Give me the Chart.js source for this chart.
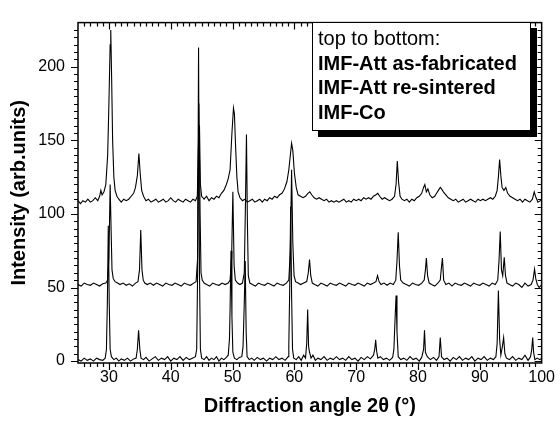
<!DOCTYPE html>
<html lang="en">
<head>
    <meta charset="UTF-8">
    <title>XRD patterns - IMF samples</title>
    <script src="https://cdn.jsdelivr.net/npm/chart.js@4.4.1/dist/chart.umd.min.js"></script>
    <style>
        body { margin: 0; background: #fff; }
        #wrap { position: relative; width: 560px; height: 426px; }
        #legendBox {
            position: absolute;
            left: 312px; top: 22px;
            width: 219px; height: 109px;
            border: 1px solid #000;
            background: #fff;
            box-shadow: 6px 6px 0 #000;
            font-family: "Liberation Sans", Arial, sans-serif;
            font-size: 20px;
            line-height: 24.5px;
            color: #000;
            padding: 3px 0 0 5px;
            box-sizing: border-box;
            white-space: nowrap;
        }
        #legendBox b { font-weight: bold; }
    </style>
</head>
<body>
    <div id="wrap">
        <canvas id="xrdChart" width="560" height="426"></canvas>
        <div id="legendBox">
            top to bottom:<br>
            <b>IMF-Att as-fabricated</b><br>
            <b>IMF-Att re-sintered</b><br>
            <b>IMF-Co</b>
        </div>
    </div>

    <script>
        // Axis tick labels
        const xTickLabels = [30, 40, 50, 60, 70, 80, 90, 100];
        const yTickLabels = [0, 50, 100, 150, 200];

        // IMF-Att as-fabricated (top trace, offset ~109)
        const angleFab = [25, 25.4, 25.8, 26.2, 26.6, 27.0, 27.4, 27.8, 28.2, 28.5, 28.7, 28.9, 29.2, 29.5, 29.8, 30.0, 30.2, 30.3, 30.45, 30.6, 30.8, 31.0, 31.3, 31.6, 32.0, 32.4, 32.8, 33.2, 33.6, 34.0, 34.3, 34.6, 34.85, 35.05, 35.3, 35.6, 36.0, 36.4, 36.8, 37.2, 37.6, 38.0, 38.4, 38.8, 39.2, 39.6, 40.0, 40.4, 40.8, 41.2, 41.6, 42.0, 42.4, 42.8, 43.2, 43.6, 44.0, 44.3, 44.5, 44.65, 44.8, 45.0, 45.4, 45.8, 46.2, 46.6, 47.0, 47.4, 47.8, 48.2, 48.6, 49.0, 49.3, 49.6, 49.9, 50.15, 50.3, 50.5, 50.7, 50.9, 51.2, 51.6, 52.0, 52.4, 52.8, 53.2, 53.6, 54.0, 54.4, 54.8, 55.2, 55.6, 56.0, 56.4, 56.8, 57.2, 57.6, 58.0, 58.4, 58.8, 59.1, 59.35, 59.55, 59.75, 60.0, 60.3, 60.6, 61.0, 61.4, 61.8, 62.2, 62.5, 62.8, 63.2, 63.6, 64.0, 64.4, 64.8, 65.2, 65.6, 66.0, 66.4, 66.8, 67.2, 67.6, 68.0, 68.4, 68.8, 69.2, 69.6, 70.0, 70.4, 70.8, 71.2, 71.6, 72.0, 72.4, 72.8, 73.2, 73.5, 73.8, 74.2, 74.6, 75.0, 75.4, 75.8, 76.2, 76.45, 76.65, 76.85, 77.1, 77.4, 77.8, 78.2, 78.6, 79.0, 79.4, 79.8, 80.2, 80.6, 80.9, 81.1, 81.35, 81.6, 81.9, 82.3, 82.7, 83.0, 83.3, 83.6, 83.8, 84.1, 84.5, 84.9, 85.3, 85.7, 86.1, 86.5, 86.9, 87.3, 87.7, 88.1, 88.5, 88.9, 89.3, 89.7, 90.1, 90.5, 90.9, 91.3, 91.7, 92.1, 92.5, 92.8, 93.0, 93.2, 93.4, 93.6, 93.9, 94.2, 94.5, 94.9, 95.3, 95.7, 96.1, 96.5, 96.9, 97.3, 97.7, 98.1, 98.5, 98.8, 99.0, 99.4, 99.8, 100];
        const intensityFab = [109, 107, 109, 108, 110, 108, 109, 111, 109, 112, 116, 113, 115, 120, 140, 175, 215, 225, 190, 150, 125, 116, 112, 110, 108, 110, 109, 110, 112, 114, 118, 126, 141, 128, 116, 112, 109, 110, 108, 109, 110, 108, 109, 110, 108, 109, 111, 109, 108, 110, 109, 108, 110, 109, 108, 110, 109, 112, 150, 160, 120, 112, 110, 112, 109, 111, 110, 112, 111, 114, 116, 120, 124, 130, 155, 172, 168, 145, 125, 115, 111, 109, 110, 108, 109, 110, 108, 109, 110, 108, 110, 109, 111, 110, 112, 111, 113, 114, 117, 122, 130, 140, 148, 143, 128, 118, 113, 112, 111, 112, 114, 115, 113, 111, 110, 111, 110, 109, 110, 108, 109, 108, 109, 108, 109, 110, 108, 109, 108, 110, 109, 110, 109, 111, 110, 111, 110, 112, 113, 114, 112, 110, 111, 110, 109, 110, 112, 120, 136, 122, 112, 110, 109, 110, 108, 110, 109, 111, 112, 114, 118, 120, 115, 117, 113, 111, 112, 114, 116, 118, 117, 115, 113, 111, 110, 109, 110, 108, 109, 110, 108, 109, 110, 109, 108, 110, 109, 110, 109, 110, 111, 110, 112, 116, 125, 137, 126, 118, 116, 118, 114, 112, 111, 110, 109, 110, 108, 110, 109, 108, 110, 115, 112, 108, 109, 110];

        // IMF-Att re-sintered (middle trace, offset ~52)
        const angleSint = [25, 25.5, 26, 26.5, 27, 27.5, 28, 28.5, 29, 29.5, 29.8, 30.0, 30.2, 30.35, 30.5, 30.7, 31.0, 31.4, 31.8, 32.3, 32.8, 33.3, 33.8, 34.3, 34.7, 34.95, 35.15, 35.35, 35.55, 35.8, 36.2, 36.7, 37.2, 37.7, 38.2, 38.7, 39.2, 39.7, 40.2, 40.7, 41.2, 41.7, 42.2, 42.7, 43.2, 43.7, 44.1, 44.35, 44.55, 44.75, 44.9, 45.1, 45.4, 45.8, 46.3, 46.8, 47.3, 47.8, 48.3, 48.8, 49.3, 49.6, 49.85, 50.05, 50.25, 50.45, 50.8, 51.2, 51.6, 51.9, 52.1, 52.25, 52.4, 52.55, 52.8, 53.2, 53.7, 54.2, 54.7, 55.2, 55.7, 56.2, 56.7, 57.2, 57.7, 58.2, 58.7, 59.1, 59.35, 59.55, 59.75, 59.95, 60.2, 60.6, 61.0, 61.5, 62.0, 62.25, 62.45, 62.65, 62.9, 63.3, 63.8, 64.3, 64.8, 65.3, 65.8, 66.3, 66.8, 67.3, 67.8, 68.3, 68.8, 69.3, 69.8, 70.3, 70.8, 71.3, 71.8, 72.3, 72.8, 73.2, 73.45, 73.7, 74.0, 74.5, 75.0, 75.5, 76.0, 76.4, 76.6, 76.8, 77.0, 77.2, 77.6, 78.1, 78.6, 79.1, 79.6, 80.1, 80.6, 81.0, 81.2, 81.35, 81.55, 81.8, 82.2, 82.7, 83.2, 83.6, 83.8, 83.95, 84.15, 84.5, 85.0, 85.5, 86.0, 86.5, 87.0, 87.5, 88.0, 88.5, 89.0, 89.5, 90.0, 90.5, 91.0, 91.5, 92.0, 92.5, 92.9, 93.1, 93.3, 93.5, 93.7, 93.95, 94.15, 94.4, 94.8, 95.3, 95.8, 96.3, 96.8, 97.3, 97.8, 98.3, 98.6, 98.85, 99.05, 99.3, 99.6, 100];
        const intensitySint = [52, 51, 53, 52, 51.5, 53, 52, 51, 52.5, 53, 55, 70, 120, 90, 62, 56, 54, 53, 52, 53, 51.5, 52.5, 51, 53, 54, 62, 89, 62, 55, 53, 52, 53, 51.5, 53, 52, 51, 53, 52, 51.5, 53, 52, 51, 53, 52, 51.5, 53, 54, 70, 175, 100, 60, 55, 53, 52, 51, 53, 52, 51.5, 53, 52, 53, 55, 70, 115, 65, 55, 53, 52, 53, 60, 110, 154, 95, 58, 53, 52, 51, 53, 52, 51.5, 53, 52, 51, 53, 52, 51.5, 53, 55, 75, 130, 80, 58, 54, 53, 52, 53, 54, 60, 69, 58, 53, 52, 51, 53, 52, 51, 53, 52, 51.5, 53, 52, 51, 53, 52, 51.5, 53, 52, 51, 53, 52, 53, 54, 58, 54, 52, 53, 51.5, 53, 52, 55, 68, 87.5, 65, 55, 53, 52, 51, 53, 52, 51.5, 53, 55, 62, 70, 58, 53, 52, 51, 53, 55, 64, 70, 55, 52, 53, 51, 53, 52, 51.5, 53, 52, 51, 53, 52, 51.5, 53, 52, 51, 53, 52, 55, 68, 88, 62, 58, 70.5, 58, 53, 52, 51, 53, 52, 50, 53, 51, 52, 55, 62.5, 56, 52, 50, 52];

        // IMF-Co (bottom trace, offset ~0)
        const angleCo = [25.0, 25.5, 26.0, 26.5, 27.0, 27.5, 28.0, 28.5, 29.0, 29.4, 29.6, 29.75, 29.9, 30.05, 30.2, 30.4, 30.8, 31.2, 31.6, 32.0, 32.5, 33.0, 33.5, 34.0, 34.4, 34.6, 34.8, 35.0, 35.2, 35.6, 36.0, 36.5, 37.0, 37.5, 38.0, 38.5, 39.0, 39.5, 40.0, 40.5, 41.0, 41.5, 42.0, 42.5, 43.0, 43.5, 44.0, 44.2, 44.35, 44.5, 44.65, 44.8, 45.0, 45.4, 45.8, 46.2, 46.6, 47.0, 47.4, 47.8, 48.2, 48.6, 49.0, 49.3, 49.5, 49.6, 49.75, 49.9, 50.05, 50.3, 50.7, 51.1, 51.5, 51.7, 51.9, 52.05, 52.2, 52.35, 52.7, 53.1, 53.5, 54.0, 54.5, 55.0, 55.5, 56.0, 56.5, 57.0, 57.5, 58.0, 58.5, 59.0, 59.1, 59.25, 59.4, 59.55, 59.7, 59.9, 60.3, 60.7, 61.1, 61.5, 61.8, 62.0, 62.15, 62.3, 62.45, 62.7, 63.0, 63.4, 63.8, 64.3, 64.8, 65.3, 65.8, 66.3, 66.8, 67.3, 67.8, 68.3, 68.8, 69.3, 69.8, 70.3, 70.8, 71.3, 71.8, 72.3, 72.8, 73.0, 73.15, 73.3, 73.5, 73.9, 74.4, 74.9, 75.4, 75.9, 76.1, 76.3, 76.45, 76.6, 76.8, 77.2, 77.7, 78.2, 78.7, 79.2, 79.7, 80.2, 80.6, 80.9, 81.05, 81.2, 81.5, 82.0, 82.5, 83.0, 83.4, 83.6, 83.8, 84.2, 84.7, 85.2, 85.7, 86.2, 86.7, 87.2, 87.7, 88.2, 88.7, 89.2, 89.7, 90.2, 90.7, 91.2, 91.7, 92.2, 92.6, 92.8, 93.0, 93.2, 93.4, 93.65, 93.85, 94.05, 94.3, 94.8, 95.3, 95.8, 96.3, 96.8, 97.3, 97.8, 98.2, 98.4, 98.55, 98.7, 98.9, 99.3, 99.7, 100];
        const intensityCo = [1, 0, 2, 0.5, 1.5, 0, 2, 1, 0.5, 2, 8, 40, 92, 40, 8, 3, 1, 2, 0, 1.5, 0.5, 2, 0, 1.5, 2, 8, 21, 8, 2, 1, 2.5, 0, 1.5, 3, 0.5, 2, 1, 3, 0, 2, 1, 3, 0.5, 2.5, 1, 2, 3, 8, 60, 213, 60, 8, 2, 1, 3, 0.5, 2, 1, 3, 0, 2, 1, 2.5, 4, 15, 35, 75, 30, 6, 2, 1, 2.5, 3, 10, 40, 68, 20, 3, 1, 2, 0.5, 2.5, 1, 2, 0, 2, 1, 3, 1, 2, 0.5, 3, 10, 50, 105, 45, 8, 2, 1, 3, 0.5, 4, 2, 12, 35, 10, 6, 2, 4, 0.5, 2, 1, 3, 0.5, 2, 1, 3, 1, 2, 0.5, 3, 1, 2, 0, 2.5, 1, 3, 1.5, 4, 8, 14.5, 7, 2, 3, 1, 2, 0.5, 2.5, 8, 30, 44.5, 20, 3, 1, 2, 0.5, 3, 1, 2, 0, 2.5, 8, 21, 6, 3, 1, 2.5, 0.5, 3, 16, 3, 1, 2, 0, 2.5, 1, 3, 0.5, 2, 1, 3, 0, 2, 1, 3, 0.5, 2, 1, 3, 12, 48, 15, 4, 10, 16, 5, 2, 1, 3, 0.5, 2, 1, 4, 0.5, 3, 8, 16, 6, 1, 2, 1, 2];

        const FONT = '"Liberation Sans", Arial, sans-serif';

        function toPoints(xs, ys) {
            return xs.map((x, i) => ({ x: x, y: ys[i] }));
        }

        // Frame with Origin-style ticks: left/bottom outward, top/right inward
        const frameTicks = {
            id: 'frameTicks',
            afterDatasetsDraw(chart) {
                const { ctx, chartArea: a, scales } = chart;
                const xs = scales.x, ys = scales.y;
                ctx.save();
                ctx.strokeStyle = '#000';
                ctx.lineWidth = 1.5;
                ctx.strokeRect(a.left, a.top, a.right - a.left, a.bottom - a.top);
                ctx.lineWidth = 1.2;
                ctx.beginPath();
                for (let v = 26; v < 100; v++) {
                    const len = v % 10 === 0 ? 7 : 4;
                    const px = Math.round(xs.getPixelForValue(v)) + 0.5;
                    ctx.moveTo(px, a.bottom); ctx.lineTo(px, a.bottom + len);
                    ctx.moveTo(px, a.top); ctx.lineTo(px, a.top + len);
                }
                for (let v = 0; v <= 225; v += 5) {
                    const len = v % 50 === 0 ? 7 : 4;
                    const py = Math.round(ys.getPixelForValue(v)) + 0.5;
                    ctx.moveTo(a.left, py); ctx.lineTo(a.left - len, py);
                    ctx.moveTo(a.right, py); ctx.lineTo(a.right - len, py);
                }
                ctx.stroke();
                ctx.restore();
            }
        };

        const lineStyle = {
            borderColor: '#000',
            borderWidth: 1.1,
            pointRadius: 0,
            tension: 0,
            fill: false
        };

        new Chart(document.getElementById('xrdChart'), {
            type: 'line',
            data: {
                datasets: [
                    { label: 'IMF-Att as-fabricated', data: toPoints(angleFab, intensityFab), ...lineStyle },
                    { label: 'IMF-Att re-sintered', data: toPoints(angleSint, intensitySint), ...lineStyle },
                    { label: 'IMF-Co', data: toPoints(angleCo, intensityCo), ...lineStyle }
                ]
            },
            options: {
                responsive: false,
                animation: false,
                layout: { padding: { top: 8, right: 15, left: 0, bottom: 0 } },
                plugins: {
                    legend: { display: false },
                    tooltip: { enabled: false }
                },
                scales: {
                    x: {
                        type: 'linear',
                        min: 25,
                        max: 100,
                        grid: { display: false, drawTicks: false },
                        border: { display: false },
                        afterBuildTicks: s => { s.ticks = xTickLabels.map(v => ({ value: v })); },
                        afterFit: s => { s.height = 63; },
                        ticks: {
                            color: '#000',
                            padding: 5,
                            maxRotation: 0,
                            font: { family: FONT, size: 16 }
                        },
                        title: {
                            display: true,
                            text: 'Diffraction angle 2θ (°)',
                            color: '#000',
                            padding: { top: 0, bottom: 8 },
                            font: { family: FONT, size: 20, weight: 'bold' }
                        }
                    },
                    y: {
                        min: -1.3,
                        max: 230,
                        grid: { display: false, drawTicks: false },
                        border: { display: false },
                        afterBuildTicks: s => { s.ticks = yTickLabels.map(v => ({ value: v })); },
                        afterFit: s => { s.width = 78; },
                        ticks: {
                            color: '#000',
                            padding: 13,
                            font: { family: FONT, size: 16 }
                        },
                        title: {
                            display: true,
                            text: 'Intensity (arb.units)',
                            color: '#000',
                            padding: { top: 7, bottom: 0 },
                            font: { family: FONT, size: 20, weight: 'bold' }
                        }
                    }
                }
            },
            plugins: [frameTicks]
        });
    </script>
</body>
</html>
